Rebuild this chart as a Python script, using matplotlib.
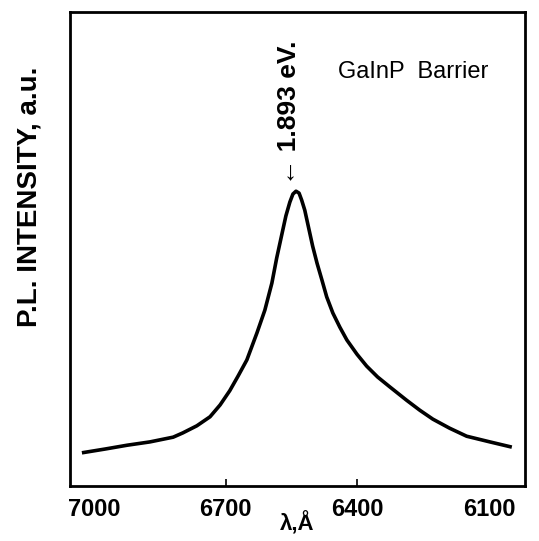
import matplotlib
matplotlib.use('Agg')
import matplotlib.pyplot as plt

# PL spectrum of the GaInP barrier
wavelength = [7028, 6975, 6925, 6873, 6820, 6798, 6766, 6736, 6713, 6691,
              6672, 6652, 6629, 6611, 6595, 6584, 6572, 6563, 6554, 6547,
              6540, 6533, 6527, 6520, 6511, 6502, 6492, 6481, 6470, 6456,
              6440, 6424, 6401, 6379, 6354, 6326, 6288, 6258, 6228, 6190,
              6151, 6098, 6048]
intensity = [0.070, 0.078, 0.086, 0.093, 0.103, 0.112, 0.127, 0.146, 0.171, 0.201,
             0.232, 0.266, 0.323, 0.371, 0.428, 0.481, 0.532, 0.570, 0.599, 0.616,
             0.622, 0.618, 0.603, 0.582, 0.544, 0.506, 0.470, 0.435, 0.399, 0.365,
             0.335, 0.308, 0.278, 0.253, 0.230, 0.209, 0.181, 0.160, 0.141, 0.122,
             0.105, 0.093, 0.082]

x_ticks = [7000, 6700, 6400, 6100]
x_tick_labels = ['7000', '6700', '6400', '6100']

peak_label = '\u2190 1.893 eV.'
sample_label = 'GaInP  Barrier'

plt.rcParams['font.family'] = ['Liberation Sans', 'DejaVu Sans']

fig = plt.figure(figsize=(5.39, 5.41), dpi=100)
ax = fig.add_axes([0.130, 0.1017, 0.844, 0.876])

ax.plot(wavelength, intensity, color='black', linewidth=2.6,
        solid_joinstyle='round', solid_capstyle='butt')

ax.set_xlim(7055, 6018)
ax.set_ylim(0, 1)

ax.set_xticks(x_ticks)
ax.set_xticklabels(x_tick_labels, fontsize=17, fontweight='bold')
ax.tick_params(axis='x', direction='in', length=5, width=1.2, pad=9)
# the scan only shows tick marks at 6700 and 6400
for i, tl in enumerate(ax.xaxis.get_major_ticks()):
    if i in (0, 3):
        tl.tick1line.set_visible(False)
ax.set_yticks([])

for s in ax.spines.values():
    s.set_linewidth(2.0)

ax.set_xlabel('\u03bb,\u00c5', fontsize=16, fontweight='bold', labelpad=-7)
fig.text(0.054, 0.636, 'P.L. INTENSITY, a.u.', rotation=90, fontsize=20,
         fontweight='bold', ha='center', va='center')

ax.text(6556, 0.635, peak_label, rotation=90, fontsize=19, fontweight='bold',
        ha='center', va='bottom')
ax.text(6445, 0.861, sample_label, fontsize=17, ha='left', va='baseline')

fig.savefig('out.png', dpi=100)
